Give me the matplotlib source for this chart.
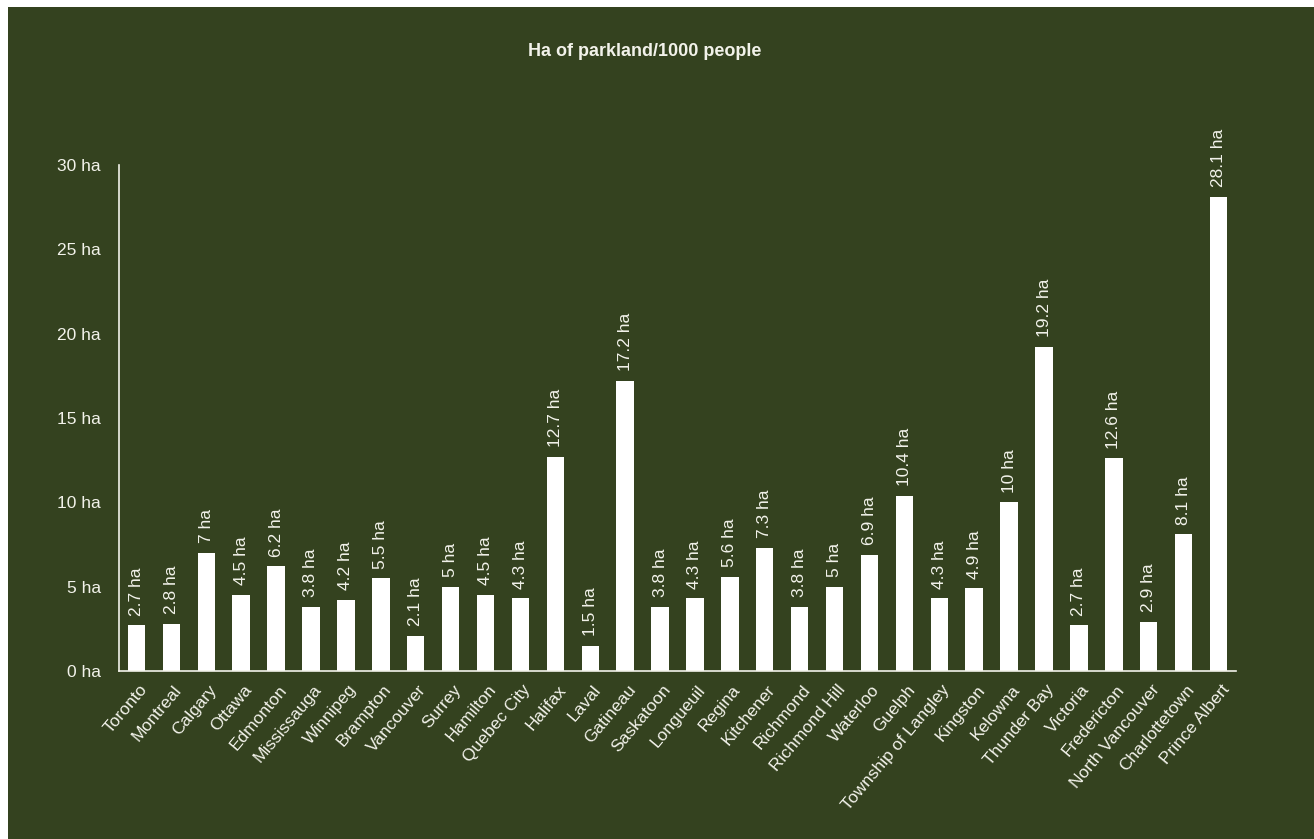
import matplotlib.pyplot as plt
import matplotlib.transforms as mtransforms
from matplotlib.patches import Rectangle

cities = ['Toronto', 'Montreal', 'Calgary', 'Ottawa', 'Edmonton', 'Mississauga',
          'Winnipeg', 'Brampton', 'Vancouver', 'Surrey', 'Hamilton', 'Quebec City',
          'Halifax', 'Laval', 'Gatineau', 'Saskatoon', 'Longueuil', 'Regina',
          'Kitchener', 'Richmond', 'Richmond Hill', 'Waterloo', 'Guelph',
          'Township of Langley', 'Kingston', 'Kelowna', 'Thunder Bay', 'Victoria',
          'Fredericton', 'North Vancouver', 'Charlottetown', 'Prince Albert']
hectares = [2.7, 2.8, 7, 4.5, 6.2, 3.8, 4.2, 5.5, 2.1, 5, 4.5, 4.3, 12.7, 1.5,
            17.2, 3.8, 4.3, 5.6, 7.3, 3.8, 5, 6.9, 10.4, 4.3, 4.9, 10, 19.2, 2.7,
            12.6, 2.9, 8.1, 28.1]
yticks = [0, 5, 10, 15, 20, 25, 30]

bg = '#34421f'
fg = '#f2f2ea'
plt.rcParams['font.family'] = ['Liberation Sans', 'DejaVu Sans']

fig = plt.figure(figsize=(13.14, 8.39), dpi=100)
fig.patch.set_facecolor('white')
fig.patches.append(Rectangle((8 / 1314, 0), 1, 1 - 7 / 839, transform=fig.transFigure,
                             facecolor=bg, edgecolor='none', zorder=-10))

ax = fig.add_axes([119 / 1314, 1 - 671 / 839, (1236 - 119) / 1314, (671 - 165) / 839])
ax.set_facecolor(bg)
x = list(range(len(cities)))
ax.bar(x, hectares, width=0.5, color='white')

for xi, v in zip(x, hectares):
    ax.annotate('{:g} ha'.format(v), (xi, v), xytext=(0, 7), textcoords='offset points',
                rotation=90, ha='center', va='bottom', color=fg, fontsize=12.5,
                annotation_clip=False)

ax.set_xlim(-0.5, len(cities) - 0.5)
ax.set_ylim(0, 30)
ax.set_yticks(yticks)
ax.set_yticklabels(['{} ha'.format(t) for t in yticks])
ax.set_xticks(x)
ax.set_xticklabels(cities, rotation=50, ha='right', rotation_mode='anchor')
ax.tick_params(axis='y', length=0, pad=13, colors=fg, labelsize=12.5)
ax.tick_params(axis='x', length=0, pad=8, colors=fg, labelsize=12.5)
shift = mtransforms.ScaledTranslation(2 / 100, 0, fig.dpi_scale_trans)
for lab in ax.get_xticklabels():
    lab.set_transform(lab.get_transform() + shift)

for s in ['top', 'right']:
    ax.spines[s].set_visible(False)
for s in ['left', 'bottom']:
    ax.spines[s].set_color(fg)
    ax.spines[s].set_linewidth(1.2)

fig.text(645 / 1314, 1 - 52 / 839, 'Ha of parkland/1000 people', ha='center', va='center',
         color=fg, fontsize=13, fontweight='bold')

fig.savefig('out.png', dpi=100, facecolor=fig.get_facecolor())
